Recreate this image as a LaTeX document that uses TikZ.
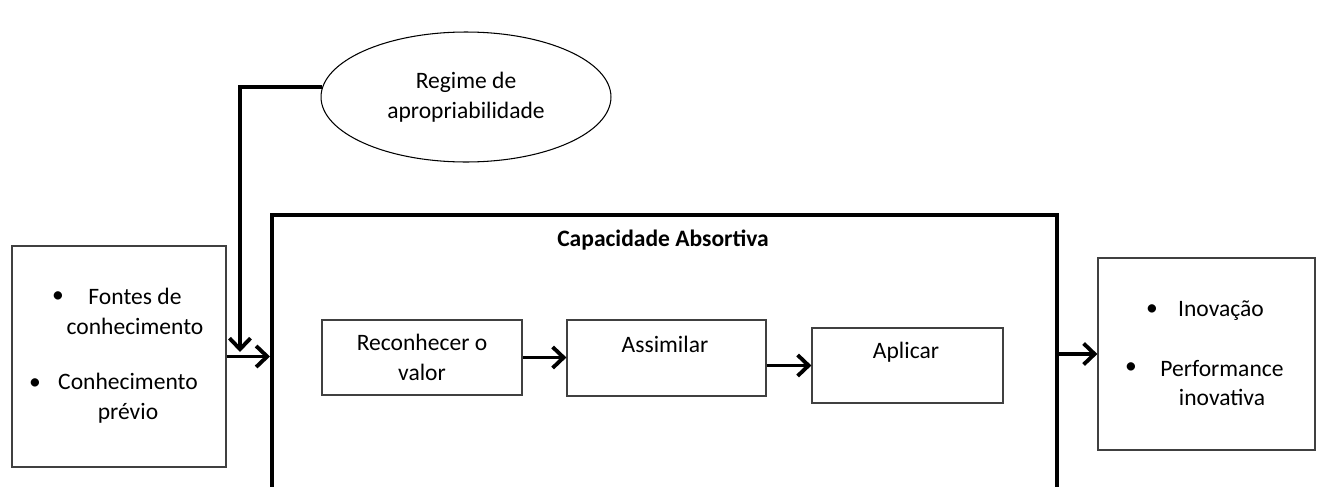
\documentclass[tikz,border=0pt]{standalone}
\usepackage{fontspec}
\setmainfont{Carlito}
\usetikzlibrary{arrows.meta, shapes.geometric, positioning}

\tikzset{
  box/.style={draw=black!75, line width=0.7pt, inner sep=0pt},
  flow/.style={line width=2.2pt, -{Straight Barb[length=2.2mm, width=4.2mm, line width=2.2pt]}},
  txt/.style={align=center, font=\fontsize{13.4}{17}\selectfont},
}

\begin{document}
\begin{tikzpicture}[x=0.02cm, y=-0.02cm]
  \useasboundingbox (0,0) rectangle (1323,487);

  % boxes
  \node[box, minimum width=4.28cm, minimum height=4.42cm] (fontes) at (119,356.5) {};
  \node[box, minimum width=4.34cm, minimum height=3.84cm] (saida) at (1206.5,354) {};
  \node[draw, line width=2.4pt, minimum width=15.7cm, minimum height=5.8cm] (cap) at (664.5,360) {};
  \node[draw, ellipse, line width=0.6pt, minimum width=5.8cm, minimum height=2.6cm] (regime) at (466,97) {};
  \node[box, minimum width=4cm, minimum height=1.5cm, txt] (recon) at (422,357.5) {Reconhecer o\\valor};
  \node[box, minimum width=3.98cm, minimum height=1.52cm] (assim) at (666.5,358) {};
  \node[box, minimum width=3.82cm, minimum height=1.5cm] (aplic) at (907.5,365.5) {};

  % texts
  \node[txt] (tregime) at (regime) {Regime de\\apropriabilidade};
  \node[txt, font=\fontsize{13.4}{17}\selectfont\bfseries] (tcap) at (663,240) {Capacidade Absortiva};
  \node[txt] (tassim) at (665,344) {Assimilar};
  \node[txt] (taplic) at (906,352) {Aplicar};
  \node[txt] (tfontes) at (135,311.5) {Fontes de\\conhecimento};
  \node[txt] (tprevio) at (128,398.5) {Conhecimento\\prévio};
  \node[txt] (b1) at (58,297) {•};
  \node[txt] (b2) at (35,384) {•};
  \node[txt] (tinov) at (1221,311) {Inovação};
  \node[txt] (tperf) at (1222,383) {Performance\\inovativa};
  \node[txt] (b3) at (1152,310) {•};
  \node[txt] (b4) at (1131,368) {•};

  % connectors
  \coordinate (entra) at (240,352);
  \draw[flow] (regime.176) -| (entra);
  \draw[flow] (fontes.east) -- (cap.west |- fontes.east);
  \draw[flow] (recon.east) -- (assim.west |- recon.east);
  \draw[flow] (assim.east |- aplic.west) -- (aplic.west);
  \draw[flow] (cap.east |- saida.west) -- (saida.west);
\end{tikzpicture}
\end{document}
